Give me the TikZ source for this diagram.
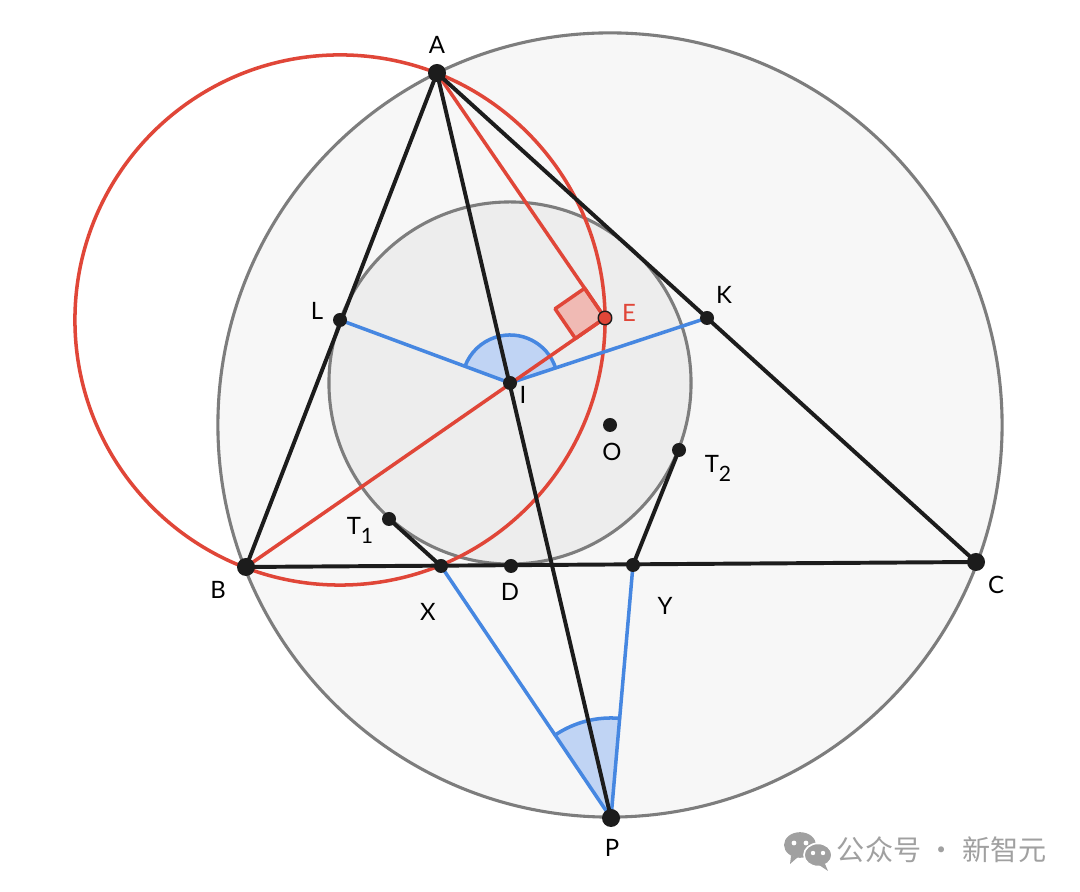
\documentclass[tikz,border=0pt]{standalone}
\usepackage{fontspec}
\setmainfont{Lato}
\newfontfamily\cjk{Noto Sans CJK SC}
\usepackage{tikz}
\usetikzlibrary{calc,angles}

\definecolor{myred}{RGB}{224,70,56}
\definecolor{myblue}{RGB}{70,135,225}
\definecolor{bluefill}{RGB}{192,212,244}
\definecolor{redfill}{RGB}{240,186,180}
\definecolor{bigfill}{RGB}{247,247,247}
\definecolor{smallfill}{RGB}{237,237,237}
\definecolor{gcircle}{RGB}{125,125,125}
\definecolor{wmgray}{RGB}{160,160,160}
\definecolor{ink}{RGB}{28,28,28}

\newcommand{\tsub}[1]{T\raisebox{-0.75ex}{\fontsize{15}{15}\selectfont #1}}

\begin{document}
\begin{tikzpicture}[x=0.025cm,y=0.025cm,line cap=round,line join=round,
    seg/.style={line width=2.8pt,ink},
    redseg/.style={line width=2.5pt,myred},
    blueseg/.style={line width=2.5pt,myblue},
    ring/.style={line width=2.2pt,draw=gcircle},
    bigdot/.style={circle,fill=ink,inner sep=0pt,minimum size=0.45cm},
    dot/.style={circle,fill=ink,inner sep=0pt,minimum size=0.35cm},
    lbl/.style={font=\fontsize{17}{20}\selectfont}]

    \useasboundingbox (0,0) rectangle (1080,892);
    \fill[white] (0,0) rectangle (1080,892);

    % points
    \foreach \n/\x/\y in {A/437/819, B/246/325, C/976/330, P/611/74,
        I/510/509, E/605/574, L/340/572, K/707/574, O/610/467,
        T1/389/373, T2/679/442, X/441/326, D/511/326, Y/633/327}
        {
            \coordinate (\n) at (\x,\y);
        }

    % circles
    \filldraw[ring,fill=bigfill] (O) circle (9.8cm);
    \filldraw[ring,fill=smallfill] (I) circle (4.525cm);
    \draw[redseg] (L) circle (6.625cm);

    % angle marks
    \pic[draw=myblue,fill=bluefill,line width=2.5pt,angle radius=1.2cm] {angle = K--I--L};
    \pic[draw=myblue,fill=bluefill,line width=2.5pt,angle radius=2.5cm] {angle = Y--P--X};
    \coordinate (E1) at ($(E)!0.9cm!(B)$);
    \coordinate (E2) at ($(E)!0.9cm!(A)$);
    \filldraw[redseg,fill=redfill] (E) -- (E1) -- ($(E1)+(E2)-(E)$) -- (E2) -- cycle;

    % segments
    \draw[blueseg] (L) -- (I) -- (K);
    \draw[blueseg] (X) -- (P) -- (Y);
    \draw[redseg] (A) -- (E);
    \draw[redseg] (B) -- (E);
    \foreach \u/\v in {A/B, A/C, B/C, A/P, T1/X, T2/Y}
        {
            \draw[seg] (\u) -- (\v);
        }

    % dots
    \foreach \n in {A,B,C,P}
        {
            \node[bigdot] (d\n) at (\n) {};
        }
    \foreach \n in {I,L,K,O,T1,T2,X,D,Y}
        {
            \node[dot] (d\n) at (\n) {};
        }
    \node[circle,fill=myred,draw=ink,line width=1pt,inner sep=0pt,minimum size=0.34cm] (dE) at (E) {};

    % labels
    \node[lbl] (labA) at (437,847) {A};
    \node[lbl] (labB) at (218,302) {B};
    \node[lbl] (labC) at (996,307) {C};
    \node[lbl] (labP) at (612,44) {P};
    \node[lbl] (labL) at (317,581) {L};
    \node[lbl,text=myred] (labE) at (629,579) {E};
    \node[lbl] (labK) at (724,597) {K};
    \node[lbl] (labI) at (523,497) {I};
    \node[lbl] (labO) at (612,440) {O};
    \node[lbl] (labTb) at (718,424) {\tsub{2}};
    \node[lbl] (labTa) at (360,362) {\tsub{1}};
    \node[lbl] (labX) at (428,280) {X};
    \node[lbl] (labD) at (510,300) {D};
    \node[lbl] (labY) at (665,286) {Y};

    % watermark
    \fill[wmgray] (800,47) ellipse (0.4cm and 0.32cm);
    \fill[wmgray] (791,36) -- (790,28) -- (798,35) -- cycle;
    \fill[white] (794,49) circle (0.06cm) (806,49) circle (0.06cm);
    \filldraw[fill=wmgray,draw=white,line width=1.2pt] (818,37) ellipse (0.35cm and 0.29cm);
    \fill[wmgray] (825,28) -- (828,21) -- (819,27) -- cycle;
    \fill[white] (813,39) circle (0.055cm) (823,39) circle (0.055cm);
    \node[anchor=west,text=wmgray,font=\cjk\fontsize{20}{20}\selectfont] (wm) at (832,42) {公众号 · 新智元};
\end{tikzpicture}
\end{document}
